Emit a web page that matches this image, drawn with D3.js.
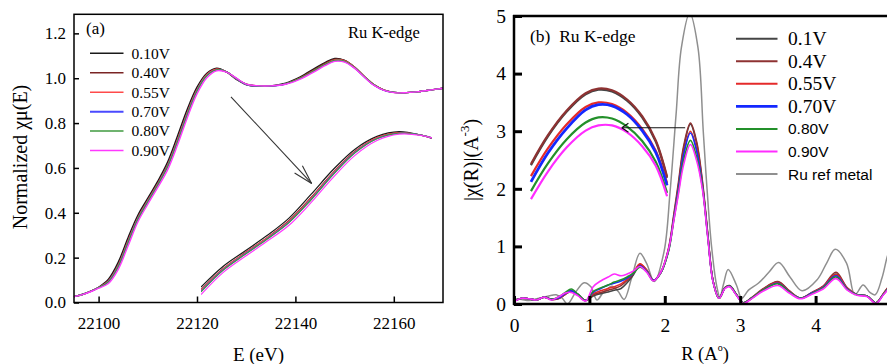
<!DOCTYPE html>
<html>
<head>
<meta charset="utf-8">
<script src="https://cdn.jsdelivr.net/npm/d3@7"></script>
<style>
  html, body { margin: 0; padding: 0; background: #fff; }
  svg { display: block; }
  svg text { font-family: "Liberation Serif", "Times New Roman", serif; fill: #000; }
  svg text.sans { font-family: "Liberation Sans", Arial, sans-serif; }
</style>
</head>
<body>
<svg id="chart" width="887" height="364"></svg>
<script>
// ---------- (a) Ru K-edge XANES ----------
const energyEV = [22095, 22097, 22099, 22100, 22102, 22104, 22106, 22108, 22110, 22112,
  22114, 22116, 22118, 22120, 22122, 22124, 22126, 22128, 22130, 22132,
  22135, 22138, 22141, 22144, 22146, 22148, 22150, 22152, 22154, 22156,
  22158, 22160, 22162, 22165, 22168, 22170];

const mu010 = [0.026, 0.038, 0.056, 0.068, 0.104, 0.180, 0.290, 0.390, 0.465, 0.540,
  0.625, 0.740, 0.860, 0.960, 1.022, 1.045, 1.028, 0.995, 0.972, 0.965,
  0.966, 0.978, 1.006, 1.045, 1.070, 1.088, 1.080, 1.050, 1.008, 0.970,
  0.947, 0.937, 0.935, 0.940, 0.949, 0.955];
const mu040 = [0.026, 0.038, 0.056, 0.067, 0.097, 0.168, 0.277, 0.379, 0.456, 0.530,
  0.613, 0.725, 0.846, 0.950, 1.017, 1.041, 1.028, 0.997, 0.972, 0.965,
  0.965, 0.975, 1.003, 1.041, 1.066, 1.085, 1.079, 1.050, 1.008, 0.970,
  0.947, 0.937, 0.935, 0.940, 0.949, 0.955];
const mu055 = [0.026, 0.038, 0.055, 0.066, 0.096, 0.166, 0.274, 0.377, 0.454, 0.528,
  0.610, 0.722, 0.844, 0.948, 1.016, 1.040, 1.028, 0.998, 0.973, 0.966,
  0.966, 0.975, 1.000, 1.037, 1.062, 1.081, 1.077, 1.049, 1.008, 0.971,
  0.948, 0.937, 0.935, 0.940, 0.949, 0.955];
const mu070 = [0.026, 0.038, 0.055, 0.066, 0.093, 0.161, 0.269, 0.373, 0.450, 0.524,
  0.605, 0.716, 0.838, 0.944, 1.012, 1.037, 1.028, 0.998, 0.972, 0.965,
  0.965, 0.974, 0.999, 1.035, 1.060, 1.078, 1.074, 1.046, 1.006, 0.969,
  0.946, 0.937, 0.935, 0.940, 0.949, 0.955];
const mu080 = [0.026, 0.038, 0.055, 0.066, 0.091, 0.159, 0.266, 0.371, 0.448, 0.522,
  0.603, 0.713, 0.835, 0.942, 1.011, 1.037, 1.028, 0.999, 0.973, 0.966,
  0.966, 0.975, 1.000, 1.036, 1.061, 1.079, 1.075, 1.047, 1.007, 0.970,
  0.947, 0.937, 0.935, 0.940, 0.949, 0.955];
const mu090 = [0.026, 0.037, 0.054, 0.064, 0.085, 0.148, 0.253, 0.360, 0.438, 0.512,
  0.590, 0.700, 0.822, 0.930, 1.002, 1.033, 1.027, 1.000, 0.974, 0.967,
  0.966, 0.973, 0.996, 1.031, 1.056, 1.075, 1.072, 1.045, 1.005, 0.968,
  0.946, 0.936, 0.935, 0.940, 0.949, 0.955];

const xanesLabels = ["0.10V", "0.40V", "0.55V", "0.70V", "0.80V", "0.90V"];
const xanesColors = ["#1a1a1a", "#7a2424", "#ff4a4a", "#4a4aff", "#3f9a3f", "#ff38ff"];
const energyTicks = [22100, 22120, 22140, 22160];
const muTicks = [0, 0.2, 0.4, 0.6, 0.8, 1.0, 1.2];
// magnified edge window shown as an inset
const edgeWindow = [22106, 22127];

// ---------- (b) Ru K-edge Fourier transform ----------
const rGrid = [0, 0.1, 0.2, 0.3, 0.4, 0.5, 0.6, 0.68, 0.76, 0.85,
  0.95, 1.05, 1.15, 1.25, 1.33, 1.42, 1.5, 1.58, 1.67, 1.76,
  1.85, 1.95, 2.05, 2.12, 2.18, 2.25, 2.34, 2.42, 2.5, 2.57,
  2.64, 2.72, 2.8, 2.86, 2.95, 3.04, 3.15, 3.3, 3.5, 3.65,
  3.8, 3.95, 4.1, 4.27, 4.42, 4.55, 4.68, 4.8, 4.9, 5.0];

const ft01 = [0.05, 0.10, 0.09, 0.07, 0.12, 0.08, 0.10, 0.17, 0.22, 0.16,
  0.06, 0.14, 0.18, 0.21, 0.24, 0.27, 0.37, 0.50, 0.67, 0.58,
  0.41, 0.55, 0.95, 1.52, 2.05, 2.70, 3.12, 2.80, 2.08, 1.20,
  0.40, 0.10, 0.28, 0.31, 0.16, 0.02, 0.10, 0.25, 0.38, 0.22,
  0.10, 0.19, 0.30, 0.52, 0.27, 0.16, 0.14, 0.02, 0.18, 0.36];
const ft04 = [0.05, 0.10, 0.09, 0.07, 0.12, 0.08, 0.10, 0.17, 0.23, 0.16,
  0.06, 0.16, 0.20, 0.24, 0.27, 0.32, 0.41, 0.52, 0.69, 0.59,
  0.41, 0.56, 0.97, 1.56, 2.10, 2.74, 3.14, 2.83, 2.12, 1.22,
  0.40, 0.10, 0.29, 0.32, 0.17, 0.02, 0.11, 0.26, 0.39, 0.23,
  0.10, 0.20, 0.31, 0.55, 0.28, 0.16, 0.14, 0.02, 0.18, 0.36];
const ft055 = [0.05, 0.10, 0.09, 0.07, 0.12, 0.08, 0.10, 0.17, 0.23, 0.16,
  0.06, 0.18, 0.23, 0.27, 0.30, 0.35, 0.43, 0.54, 0.70, 0.59,
  0.41, 0.55, 0.94, 1.50, 2.00, 2.62, 3.00, 2.70, 2.05, 1.19,
  0.40, 0.10, 0.28, 0.31, 0.16, 0.02, 0.10, 0.25, 0.37, 0.22,
  0.10, 0.19, 0.30, 0.51, 0.27, 0.16, 0.14, 0.02, 0.18, 0.35];
const ft070 = [0.05, 0.10, 0.09, 0.07, 0.12, 0.08, 0.11, 0.18, 0.23, 0.16,
  0.06, 0.20, 0.27, 0.33, 0.36, 0.40, 0.45, 0.53, 0.66, 0.57,
  0.41, 0.55, 0.93, 1.49, 1.99, 2.60, 2.97, 2.67, 2.04, 1.18,
  0.39, 0.10, 0.28, 0.31, 0.16, 0.02, 0.10, 0.24, 0.36, 0.21,
  0.10, 0.19, 0.29, 0.49, 0.26, 0.16, 0.14, 0.02, 0.17, 0.34];
const ft080 = [0.05, 0.10, 0.09, 0.07, 0.12, 0.08, 0.13, 0.20, 0.26, 0.17,
  0.06, 0.22, 0.28, 0.33, 0.38, 0.42, 0.47, 0.53, 0.64, 0.56,
  0.40, 0.55, 0.92, 1.46, 1.94, 2.50, 2.84, 2.56, 2.02, 1.17,
  0.39, 0.10, 0.28, 0.31, 0.16, 0.02, 0.10, 0.24, 0.35, 0.21,
  0.10, 0.18, 0.28, 0.47, 0.25, 0.16, 0.14, 0.02, 0.17, 0.33];
const ft090 = [0.04, 0.10, 0.09, 0.07, 0.12, 0.07, 0.13, 0.19, 0.20, 0.14,
  0.05, 0.30, 0.40, 0.47, 0.52, 0.49, 0.52, 0.57, 0.65, 0.55,
  0.40, 0.56, 0.95, 1.45, 1.90, 2.42, 2.77, 2.50, 1.98, 1.15,
  0.38, 0.10, 0.27, 0.30, 0.15, 0.01, 0.09, 0.22, 0.32, 0.19,
  0.09, 0.17, 0.26, 0.44, 0.24, 0.15, 0.13, 0.01, 0.16, 0.31];

const refR = [0, 0.1, 0.2, 0.3, 0.4, 0.5, 0.56, 0.64, 0.71, 0.82,
  0.93, 1.02, 1.1, 1.19, 1.3, 1.38, 1.46, 1.56, 1.67, 1.76,
  1.86, 1.99, 2.07, 2.15, 2.22, 2.33, 2.44, 2.51, 2.56, 2.62,
  2.69, 2.73, 2.78, 2.84, 2.95, 3.02, 3.11, 3.24, 3.38, 3.51,
  3.66, 3.82, 4.02, 4.15, 4.26, 4.41, 4.52, 4.63, 4.72, 4.79,
  4.88, 4.95, 5.0];
const refMetal = [0.09, 0.08, 0.06, 0.09, 0.12, 0.15, 0.16, 0.10, 0.00, 0.21,
  0.37, 0.30, 0.07, 0.21, 0.31, 0.22, 0.08, 0.45, 0.88, 0.70,
  0.39, 0.91, 1.95, 3.30, 4.45, 5.05, 4.45, 3.00, 2.00, 1.00,
  0.30, 0.12, 0.35, 0.60, 0.33, 0.10, 0.24, 0.36, 0.55, 0.72,
  0.47, 0.23, 0.42, 0.72, 0.95, 0.71, 0.16, 0.33, 0.20, 0.16,
  0.45, 0.82, 1.00];

// enlarged first-shell peak, drawn in the upper-left corner of (b)
const peakZoomR = [0.225, 0.45, 0.7, 0.95, 1.12, 1.3, 1.5, 1.7, 1.88, 2.03];
const peakZoom01 = [2.41, 2.91, 3.34, 3.64, 3.72, 3.69, 3.53, 3.24, 2.82, 2.19];
const peakZoom04 = [2.43, 2.93, 3.36, 3.66, 3.74, 3.71, 3.55, 3.26, 2.84, 2.21];
const peakZoom055 = [2.22, 2.70, 3.12, 3.42, 3.50, 3.47, 3.32, 3.04, 2.66, 2.10];
const peakZoom070 = [2.12, 2.62, 3.05, 3.37, 3.46, 3.44, 3.29, 3.01, 2.63, 2.06];
const peakZoom080 = [1.96, 2.44, 2.86, 3.15, 3.24, 3.22, 3.08, 2.83, 2.47, 1.93];
const peakZoom090 = [1.82, 2.30, 2.72, 3.01, 3.10, 3.10, 2.98, 2.74, 2.40, 1.87];

const ftLabels = ["0.1V", "0.4V", "0.55V", "0.70V", "0.80V", "0.90V", "Ru ref metal"];
const ftColors = ["#454545", "#8e3232", "#e42a2a", "#1428ff", "#23902a", "#ff2cff", "#8f8f8f"];
const rTicks = [0, 1, 2, 3, 4, 5];
const chiTicks = [0, 1, 2, 3, 4, 5];

// ---------- drawing ----------
const svg = d3.select("#chart");
const defs = svg.append("defs");
const smooth = d3.curveCatmullRom.alpha(0.5);

function curve(sx, sy) {
  return d3.line().x(d => sx(d[0])).y(d => sy(d[1])).curve(smooth);
}

function arrow(g, x1, y1, x2, y2, head, spread, color, width) {
  g.append("line").attr("x1", x1).attr("y1", y1).attr("x2", x2).attr("y2", y2)
    .attr("stroke", color).attr("stroke-width", width);
  const a = Math.atan2(y1 - y2, x1 - x2);
  [-spread, spread].forEach(s => {
    g.append("line").attr("x1", x2).attr("y1", y2)
      .attr("x2", x2 + head * Math.cos(a + s)).attr("y2", y2 + head * Math.sin(a + s))
      .attr("stroke", color).attr("stroke-width", width);
  });
}

function styleAxis(g, size, tickWidth) {
  g.attr("font-family", null).attr("font-size", null);
  g.select(".domain").remove();
  g.selectAll("line").attr("stroke", "#000").attr("stroke-width", tickWidth);
  g.selectAll("text").attr("fill", null).style("font-size", size + "px");
}

// ===== Panel (a) =====
const PA = { left: 74, right: 443, top: 14.3, bottom: 302.5 };
const xA = d3.scaleLinear().domain([22095, 22170]).range([PA.left, PA.right]);
const yA = d3.scaleLinear().domain([0, 1.285]).range([PA.bottom, PA.top]);
const gA = svg.append("g");

const xanesSeries = [mu010, mu040, mu055, mu070, mu080, mu090];

gA.append("g").selectAll("path")
  .data(xanesSeries)
  .join("path")
  .attr("d", s => curve(xA, yA)(d3.zip(energyEV, s)))
  .attr("fill", "none")
  .attr("stroke", (s, i) => xanesColors[i])
  .attr("stroke-width", 1.4)
  .attr("stroke-linejoin", "round");

// inset: the edge region on enlarged scales
const xAi = d3.scaleLinear().domain(edgeWindow).range([201, 432]);
const yAi = d3.scaleLinear().domain([0.29, 1.045]).range([287, 131.7]);
defs.append("clipPath").attr("id", "edgeClip").append("rect")
  .attr("x", xAi(edgeWindow[0])).attr("y", 100)
  .attr("width", xAi(edgeWindow[1]) - xAi(edgeWindow[0])).attr("height", 220);
gA.append("g").attr("clip-path", "url(#edgeClip)").selectAll("path")
  .data(xanesSeries)
  .join("path")
  .attr("d", s => curve(xAi, yAi)(d3.zip(energyEV, s)
      .filter(d => d[0] >= edgeWindow[0] && d[0] <= edgeWindow[1] + 2)))
  .attr("fill", "none")
  .attr("stroke", (s, i) => xanesColors[i])
  .attr("stroke-width", 1.2);

// frame
gA.append("rect").attr("x", PA.left).attr("y", PA.top)
  .attr("width", PA.right - PA.left).attr("height", PA.bottom - PA.top)
  .attr("fill", "none").attr("stroke", "#000").attr("stroke-width", 1.5);

// axes
gA.append("g").attr("transform", `translate(0,${PA.bottom})`)
  .call(d3.axisBottom(xA).tickValues(energyTicks).tickSize(-6).tickFormat(d3.format("d")))
  .call(g => {
    styleAxis(g, 17, 1.5);
    g.selectAll("text").attr("dy", null).attr("y", 26);
  });
gA.append("g").attr("transform", `translate(${PA.left},0)`)
  .call(d3.axisLeft(yA).tickValues(muTicks).tickSize(-5).tickPadding(8).tickFormat(d3.format(".1f")))
  .call(g => styleAxis(g, 17, 1.5));

gA.append("text").attr("x", (PA.left + PA.right) / 2).attr("y", 361)
  .attr("text-anchor", "middle").style("font-size", "19px")
  .text("E (eV)");
gA.append("text").attr("transform", "translate(27,157) rotate(-90)")
  .attr("text-anchor", "middle").style("font-size", "20px")
  .text("Normalized χμ(E)");
gA.append("text").attr("x", 86).attr("y", 34).style("font-size", "17px").text("(a)");
gA.append("text").attr("x", 348).attr("y", 38).style("font-size", "16.5px").text("Ru K-edge");

// legend (a)
const legA = gA.append("g");
xanesLabels.forEach((lab, i) => {
  const y = 53.3 + i * 19.45;
  legA.append("line").attr("x1", 90).attr("x2", 123.5).attr("y1", y).attr("y2", y)
    .attr("stroke", xanesColors[i]).attr("stroke-width", i === 3 ? 2 : 1.5);
  legA.append("text").attr("x", 131.5).attr("y", y + 5.3)
    .style("font-size", "15.5px").text(lab);
});

// arrow pointing from the edge to the inset
const edgeArrow = { from: [22126.9, 0.917], to: [22143.3, 0.531] };
arrow(gA, xA(edgeArrow.from[0]), yA(edgeArrow.from[1]), xA(edgeArrow.to[0]), yA(edgeArrow.to[1]),
  20, 0.27, "#333", 1.1);

// ===== Panel (b) =====
const PB = { left: 514, right: 891, top: 16, bottom: 304 };
const xB = d3.scaleLinear().domain([0, 5]).range([PB.left, PB.right]);
const yB = d3.scaleLinear().domain([0, 5]).range([PB.bottom, PB.top]);
const gB = svg.append("g");

defs.append("clipPath").attr("id", "ftClip").append("rect")
  .attr("x", PB.left).attr("y", PB.top)
  .attr("width", PB.right - PB.left).attr("height", PB.bottom - PB.top);

const ftSeries = [ft01, ft04, ft055, ft070, ft080, ft090];
const plotB = gB.append("g").attr("clip-path", "url(#ftClip)");

plotB.append("path")
  .attr("d", curve(xB, yB)(d3.zip(refR, refMetal)))
  .attr("fill", "none").attr("stroke", ftColors[6]).attr("stroke-width", 1.5);

plotB.append("g").selectAll("path")
  .data(ftSeries)
  .join("path")
  .attr("d", s => curve(xB, yB)(d3.zip(rGrid, s)))
  .attr("fill", "none")
  .attr("stroke", (s, i) => ftColors[i])
  .attr("stroke-width", 1.6)
  .attr("stroke-linejoin", "round");

const peakZoom = [peakZoom01, peakZoom04, peakZoom055, peakZoom070, peakZoom080, peakZoom090];
plotB.append("g").selectAll("path")
  .data(peakZoom)
  .join("path")
  .attr("d", s => curve(xB, yB)(d3.zip(peakZoomR, s)))
  .attr("fill", "none")
  .attr("stroke", (s, i) => ftColors[i])
  .attr("stroke-width", (s, i) => i === 3 ? 2.8 : 2.2);

// axis lines
gB.append("line").attr("x1", PB.left).attr("x2", PB.left).attr("y1", PB.top - 1).attr("y2", PB.bottom + 1)
  .attr("stroke", "#000").attr("stroke-width", 2.5);
gB.append("line").attr("x1", PB.left - 1).attr("x2", 887).attr("y1", PB.bottom).attr("y2", PB.bottom)
  .attr("stroke", "#000").attr("stroke-width", 2.5);
gB.append("line").attr("x1", PB.left - 1).attr("x2", 887).attr("y1", PB.top).attr("y2", PB.top)
  .attr("stroke", "#000").attr("stroke-width", 2.5);

gB.append("g").attr("transform", `translate(0,${PB.bottom})`)
  .call(d3.axisBottom(xB).tickValues(rTicks).tickSize(-8).tickFormat(d3.format("d")))
  .call(g => {
    styleAxis(g, 19.5, 3);
    g.selectAll("text").attr("dy", null).attr("y", 27.5);
  });
gB.append("g").attr("transform", `translate(${PB.left},0)`)
  .call(d3.axisLeft(yB).tickValues(chiTicks).tickSize(-8).tickPadding(8).tickFormat(d3.format("d")))
  .call(g => styleAxis(g, 19.5, 3));

// axis titles
const xt = gB.append("text").attr("x", 705).attr("y", 360).attr("text-anchor", "middle")
  .style("font-size", "18.5px");
xt.append("tspan").text("R (A");
xt.append("tspan").attr("dy", -9).style("font-size", "10px").text("o");
xt.append("tspan").attr("dy", 9).text(")");

const yt = gB.append("text").attr("transform", "translate(478,160) rotate(-90)")
  .attr("text-anchor", "middle").style("font-size", "20px");
yt.append("tspan").text("|χ(R)|(A");
yt.append("tspan").attr("dy", -9).style("font-size", "13px").text("-3");
yt.append("tspan").attr("dy", 9).text(")");

gB.append("text").attr("x", 530).attr("y", 42).style("font-size", "17.5px")
  .style("white-space", "pre").text("(b)  Ru K-edge");

// legend (b)
const legB = gB.append("g");
ftLabels.forEach((lab, i) => {
  const y = 38.7 + i * 22.55;
  legB.append("line").attr("x1", 736).attr("x2", 777.5).attr("y1", y).attr("y2", y)
    .attr("stroke", ftColors[i]).attr("stroke-width", i === 3 ? 2.6 : 2);
  const sans = i >= 4;
  legB.append("text").attr("x", 788).attr("y", y + (sans ? 5.5 : 6.5))
    .classed("sans", sans)
    .style("font-size", sans ? "15.5px" : "19.5px").text(lab);
});

// arrow from the first-shell peak to its enlarged view
const peakArrow = { from: [2.27, 3.06], to: [1.43, 3.06] };
arrow(gB, xB(peakArrow.from[0]), yB(peakArrow.from[1]), xB(peakArrow.to[0]), yB(peakArrow.to[1]),
  8, 0.6, "#111", 1.2);
</script>
</body>
</html>
